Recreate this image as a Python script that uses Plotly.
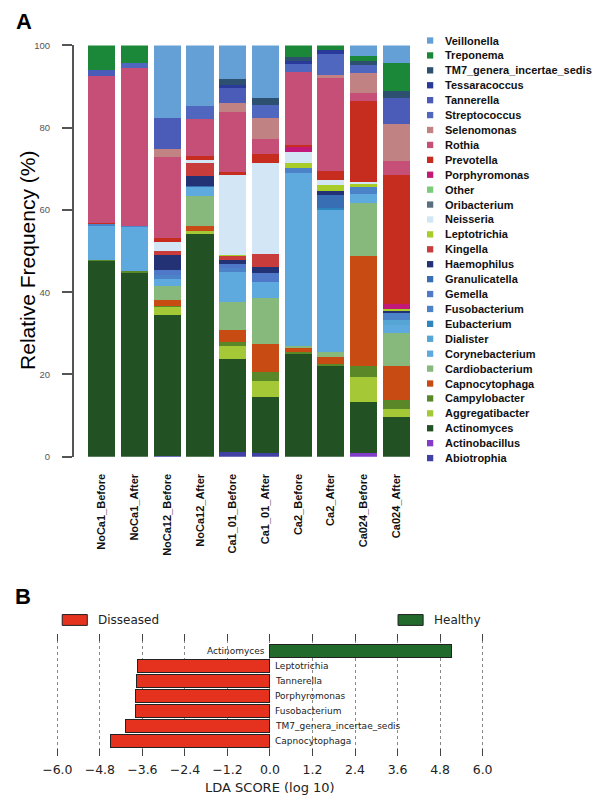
import plotly.graph_objects as go

samples = ["NoCa1_Before", "NoCa1_After", "NoCa12_Before", "NoCa12_After", "Ca1_01_Before",
           "Ca1_01_After", "Ca2_Before", "Ca2_After", "Ca024_Before", "Ca024_After"]

# relative frequency (%) per genus, one value per sample (stack order: bottom -> top)
abiotrophia = [0, 0, 0.2, 0, 1.1, 0.9, 0, 0, 0, 0]
actinobacillus = [0, 0, 0, 0, 0, 0, 0, 0, 0.9, 0]
actinomyces = [47.5, 44.6, 34.2, 54.2, 22.6, 13.6, 24.9, 22.1, 12.4, 9.7]
aggregatibacter = [0, 0, 1.9, 0.8, 3.2, 3.8, 0, 0, 6.2, 2.0]
campylobacter = [0.4, 0.6, 0.3, 0, 0.9, 2.3, 0.5, 0.4, 2.6, 2.0]
capnocytophaga = [0, 0, 1.4, 1.0, 2.9, 6.9, 1.0, 1.8, 26.7, 8.4]
cardiobacterium = [0, 0, 3.6, 7.4, 6.9, 11.1, 0.5, 1.1, 12.8, 8.0]
corynebacterium = [8.2, 10.6, 1.6, 2.2, 7.2, 3.8, 42.2, 34.6, 2.4, 2.0]
dialister = [0, 0, 0, 0, 0, 0, 0, 0, 0, 1.2]
eubacterium = [0, 0, 0, 0, 0, 0, 0, 0.5, 0, 0]
fusobacterium = [0.5, 0.3, 1.0, 0, 1.0, 0, 1.2, 0, 1.6, 1.6]
gemella = [0, 0, 1.3, 0, 1.0, 2.2, 0, 0, 0, 0]
granulicatella = [0, 0, 0, 0.3, 0, 0, 0, 3.1, 0, 0]
haemophilus = [0, 0, 3.6, 2.3, 1.0, 1.6, 0, 1.0, 0, 0.6]
kingella = [0, 0, 1.0, 3.1, 1.0, 3.0, 0, 0, 0, 0]
leptotrichia = [0, 0, 0, 0, 0.2, 0, 1.0, 1.4, 0.6, 0.5]
neisseria = [0, 0, 2.0, 0.9, 19.4, 22.3, 2.7, 1.2, 0.5, 0]
oribacterium = [0, 0, 0, 0, 0, 0, 0, 0, 0, 0]
other = [0, 0, 0, 0, 0, 0, 0, 0, 0, 0]
porphyromonas = [0, 0, 0, 0, 0, 0, 1.3, 0, 0, 1.2]
prevotella = [0.3, 0, 1.0, 0.9, 0.8, 2.1, 0.5, 2.2, 19.7, 31.4]
rothia = [35.7, 38.3, 19.8, 9.1, 14.6, 3.6, 17.8, 22.8, 2.0, 3.4]
selenomonas = [0, 0, 2.0, 0, 2.2, 5.1, 0, 0.6, 5.0, 8.8]
streptococcus = [0, 1.4, 0, 3.2, 0, 3.3, 1.8, 5.2, 1.8, 0]
tannerella = [1.4, 0, 7.5, 0, 3.6, 0, 0, 0, 0, 6.4]
tessaracoccus = [0, 0, 0, 0, 0.8, 0, 0.9, 0.9, 0, 0]
tm7 = [0, 0, 0, 0, 1.4, 1.6, 0.9, 0, 1.0, 1.8]
treponema = [6.0, 4.2, 0, 0, 0, 0, 2.8, 1.1, 1.2, 6.8]
veillonella = [0, 0, 17.6, 14.6, 8.2, 12.8, 0, 0, 2.6, 4.2]

genera = [
    ("Abiotrophia", abiotrophia, "#4141a5"),
    ("Actinobacillus", actinobacillus, "#823cc8"),
    ("Actinomyces", actinomyces, "#225224"),
    ("Aggregatibacter", aggregatibacter, "#a5c837"),
    ("Campylobacter", campylobacter, "#5a8728"),
    ("Capnocytophaga", capnocytophaga, "#c84b14"),
    ("Cardiobacterium", cardiobacterium, "#87b97d"),
    ("Corynebacterium", corynebacterium, "#5eaade"),
    ("Dialister", dialister, "#55a5d5"),
    ("Eubacterium", eubacterium, "#2d87be"),
    ("Fusobacterium", fusobacterium, "#4b82c8"),
    ("Gemella", gemella, "#5078c8"),
    ("Granulicatella", granulicatella, "#376eb4"),
    ("Haemophilus", haemophilus, "#233274"),
    ("Kingella", kingella, "#c83c3c"),
    ("Leptotrichia", leptotrichia, "#a8cd28"),
    ("Neisseria", neisseria, "#d2e6f5"),
    ("Oribacterium", oribacterium, "#5a6e7e"),
    ("Other", other, "#7ccc7c"),
    ("Porphyromonas", porphyromonas, "#c21978"),
    ("Prevotella", prevotella, "#c62d1e"),
    ("Rothia", rothia, "#c64f77"),
    ("Selenomonas", selenomonas, "#c08282"),
    ("Streptococcus", streptococcus, "#5067c0"),
    ("Tannerella", tannerella, "#4b5bb8"),
    ("Tessaracoccus", tessaracoccus, "#2a3a9a"),
    ("TM7_genera_incertae_sedis", tm7, "#2d5070"),
    ("Treponema", treponema, "#1a8838"),
    ("Veillonella", veillonella, "#64a0d6"),
]

# panel B: LEfSe LDA scores
lda_names = ["Actinomyces", "Leptotrichia", "Tannerella", "Porphyromonas",
             "Fusobacterium", "TM7_genera_incertae_sedis", "Capnocytophaga"]
lda_scores = [5.12, -3.75, -3.77, -3.80, -3.80, -4.07, -4.49]

W, H = 600, 803


def fx(p):
    return p / W


def fy(p):
    return 1 - p / H


SANS = "Liberation Sans, Arial, Helvetica, sans-serif"
MPL = "DejaVu Sans, sans-serif"

fig = go.Figure()

for name, vals, col in genera:
    fig.add_trace(go.Bar(x=samples, y=vals, name=name, marker_color=col,
                         marker_line_width=0, showlegend=False,
                         xaxis="x", yaxis="y"))

red, green = "#e5321f", "#216a2c"
fig.add_trace(go.Bar(
    x=lda_scores, y=lda_names, orientation="h", width=0.87,
    marker_color=[green if v > 0 else red for v in lda_scores],
    marker_line_color="#222222", marker_line_width=1,
    showlegend=False, xaxis="x2", yaxis="y2",
))

shapes = []
annotations = []

# legend for panel A (drawn by hand to get the tight spacing)
for i, (name, _, col) in enumerate(reversed(genera)):
    ly = 35 + i * 15.12
    shapes.append(dict(type="rect", xref="paper", yref="paper",
                       x0=fx(429), x1=fx(435.5), y0=fy(ly + 3.2), y1=fy(ly - 3.2),
                       fillcolor=col, line_width=0))
    annotations.append(dict(x=fx(446), y=fy(ly), xref="paper", yref="paper",
                            text=name, showarrow=False, xanchor="left", yanchor="middle",
                            font=dict(family=SANS, size=11, color="#111", weight="bold")))

# legend for panel B
for x0, label, col in [(51, "Disseased", red), (399, "Healthy", green)]:
    shapes.append(dict(type="rect", xref="paper", yref="paper",
                       x0=fx(x0), x1=fx(x0 + 26), y0=fy(628), y1=fy(617),
                       fillcolor=col, line=dict(color="#222", width=1)))
    annotations.append(dict(x=fx(x0 + 35), y=fy(622.5), xref="paper", yref="paper",
                            text=label, showarrow=False, xanchor="left", yanchor="middle",
                            font=dict(family=MPL, size=12, color="#222")))

# genus labels next to LDA bars
for name, v in zip(lda_names, lda_scores):
    annotations.append(dict(x=0, y=name, xref="x2", yref="y2", text=name, showarrow=False,
                            xanchor="right" if v > 0 else "left", yanchor="middle",
                            xshift=-3 if v > 0 else 3,
                            font=dict(family=MPL, size=9, color="#222")))

annotations += [
    dict(x=fx(1), y=fy(16), xref="paper", yref="paper", text="A", showarrow=False,
         xanchor="left", yanchor="middle", font=dict(family=SANS, size=22, color="black", weight="bold")),
    dict(x=fx(0), y=fy(599), xref="paper", yref="paper", text="B", showarrow=False,
         xanchor="left", yanchor="middle", font=dict(family=SANS, size=22, color="black", weight="bold")),
    dict(x=fx(15), y=fy(258), xref="paper", yref="paper", text="Relative Frequency (%)",
         showarrow=False, textangle=-90, xanchor="center", yanchor="middle",
         font=dict(family=SANS, size=21, color="black")),
    dict(x=fx(266), y=fy(792), xref="paper", yref="paper", text="LDA SCORE (log 10)",
         showarrow=False, xanchor="center", yanchor="middle",
         font=dict(family=MPL, size=13, color="#222")),
]

fig.update_layout(
    width=W, height=H,
    margin=dict(l=0, r=0, t=0, b=0),
    paper_bgcolor="white", plot_bgcolor="white",
    barmode="stack", bargap=0.17,
    shapes=shapes, annotations=annotations,
    xaxis=dict(domain=[fx(63), fx(417.5)], range=[-0.86, 9.6], anchor="y",
               tickangle=-90, ticks="", ticklabelstandoff=14,
               tickfont=dict(family=SANS, size=11, color="#111", weight="bold"),
               showline=False, showgrid=False, zeroline=False),
    yaxis=dict(domain=[fy(457), fy(40)], range=[0, 100], anchor="x",
               tickvals=[0, 20, 40, 60, 80, 100], ticks="outside", ticklen=10,
               tickcolor="#555", tickwidth=1.5, ticklabelstandoff=10,
               tickfont=dict(family=SANS, size=9.5, color="#555"),
               showline=True, linecolor="#555", linewidth=1.5,
               showgrid=False, zeroline=False),
    xaxis2=dict(domain=[fx(44.1), fx(488.5)], range=[-6.05, 6.05], anchor="y2",
                tickmode="linear", tick0=0, dtick=1.2, tickformat=".1f",
                ticks="inside", ticklen=7, tickcolor="#444", mirror="ticks",
                showline=True, linecolor="rgba(0,0,0,0)", zeroline=False,
                showgrid=True, griddash="dot", gridcolor="#888", gridwidth=1,
                ticklabelstandoff=2,
                tickfont=dict(family=MPL, size=12.5, color="#222")),
    yaxis2=dict(domain=[fy(760), fy(637)], range=[6.94, -1.11], anchor="x2",
                type="category", categoryorder="array", categoryarray=lda_names,
                showticklabels=False, ticks="", showgrid=False, zeroline=False, showline=False),
)

fig.write_html("out.html", config={"displayModeBar": False},
               post_script="document.body.style.margin='0';")
